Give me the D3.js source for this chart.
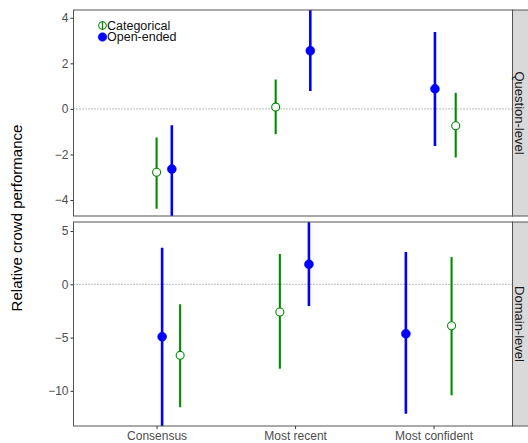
<!DOCTYPE html>
<html>
<head>
<meta charset="utf-8">
<script src="https://cdn.jsdelivr.net/npm/d3@7"></script>
<style>
  body { margin: 0; background: #fff; }
  svg { font-family: "Liberation Sans", Arial, sans-serif; }
</style>
</head>
<body>
<svg id="chart" width="528" height="443"></svg>
<script>
// categories and facets
const categories = ["Consensus", "Most recent", "Most confident"];
const panels = ["Question-level", "Domain-level"];
const seriesNames = ["Categorical", "Open-ended"];

// Question-level estimates + intervals (per category)
const qCatMean = [-2.78, 0.08, -0.74];
const qCatLow = [-4.38, -1.11, -2.13];
const qCatHigh = [-1.25, 1.29, 0.71];
const qCatJitter = [0.0, -0.14, 0.16];
const qOpenMean = [-2.64, 2.55, 0.88];
const qOpenLow = [-4.9, 0.79, -1.63];
const qOpenHigh = [-0.72, 4.6, 3.37];
const qOpenJitter = [0.11, 0.11, 0.01];

// Domain-level
const dCatMean = [-6.67, -2.6, -3.89];
const dCatLow = [-11.55, -7.92, -10.42];
const dCatHigh = [-1.88, 2.85, 2.56];
const dCatJitter = [0.17, -0.11, 0.13];
const dOpenMean = [-4.92, 1.88, -4.64];
const dOpenLow = [-14, -2.04, -12.15];
const dOpenHigh = [3.44, 6.5, 3.03];
const dOpenJitter = [0.04, 0.10, -0.20];

const qTicks = [-4, -2, 0, 2, 4];
const dTicks = [-10, -5, 0, 5];

function rows(mean, low, high, jit, s) {
    return categories.map((c, i) => ({cat: i, mean: mean[i], low: low[i], high: high[i], jit: jit[i], series: s}));
}

const panelData = [
    {name: panels[0], domain: [-4.70, 4.34], ticks: qTicks,
     points: rows(qCatMean, qCatLow, qCatHigh, qCatJitter, 0).concat(rows(qOpenMean, qOpenLow, qOpenHigh, qOpenJitter, 1))},
    {name: panels[1], domain: [-13.3, 5.85], ticks: dTicks,
     points: rows(dCatMean, dCatLow, dCatHigh, dCatJitter, 0).concat(rows(dOpenMean, dOpenLow, dOpenHigh, dOpenJitter, 1))}
];

const colors = ["#008B00", "#0000FF"];

const svg = d3.select("#chart");
const left = 73.5, right = 512.5;
const width = right - left;
const panelTops = [10, 222];
const panelH = [206, 204];

const x = d3.scaleLinear().domain([-0.6, 2.57]).range([0, width]);

panelData.forEach((p, pi) => {
    const g = svg.append("g").attr("transform", `translate(${left},${panelTops[pi]})`);
    const h = panelH[pi];
    const y = d3.scaleLinear().domain(p.domain).range([h, 0]);

    g.append("clipPath").attr("id", "clip" + pi)
        .append("rect").attr("width", width).attr("height", h);

    // zero reference
    g.append("line")
        .attr("x1", 0).attr("x2", width)
        .attr("y1", y(0)).attr("y2", y(0))
        .attr("stroke", "#555").attr("stroke-width", 0.8)
        .attr("stroke-dasharray", "1,2");

    const marks = g.append("g").attr("clip-path", `url(#clip${pi})`);

    marks.selectAll(".err")
        .data(p.points)
        .enter().append("line")
        .attr("x1", d => x(d.cat + d.jit)).attr("x2", d => x(d.cat + d.jit))
        .attr("y1", d => y(d.low)).attr("y2", d => y(d.high))
        .attr("stroke", d => colors[d.series])
        .attr("stroke-width", d => d.series === 1 ? 2.6 : 2.1);

    marks.selectAll(".pt")
        .data(p.points)
        .enter().append("circle")
        .attr("cx", d => x(d.cat + d.jit))
        .attr("cy", d => y(d.mean))
        .attr("r", d => d.series === 1 ? 4.5 : 4)
        .attr("fill", d => d.series === 1 ? colors[1] : "white")
        .attr("stroke", d => colors[d.series])
        .attr("stroke-width", d => d.series === 1 ? 0.5 : 1.1);

    // y axis
    const yAxis = g.append("g")
        .call(d3.axisLeft(y).tickValues(p.ticks).tickSize(3).tickFormat(d => d3.format("d")(d).replace("-", "\u2212")));
    yAxis.select(".domain").remove();
    yAxis.selectAll(".tick line").attr("stroke", "#333");
    yAxis.selectAll(".tick text").attr("fill", "#4D4D4D").attr("font-size", 12).attr("x", -5)
        .attr("font-family", "Liberation Sans, Arial, sans-serif");

    if (pi === 1) {
        const xAxis = g.append("g")
            .attr("transform", `translate(0,${h})`)
            .call(d3.axisBottom(x).tickValues([0, 1, 2]).tickSize(3).tickFormat(i => categories[i]));
        xAxis.select(".domain").remove();
        xAxis.selectAll(".tick line").attr("stroke", "#333");
        xAxis.selectAll(".tick text").attr("fill", "#4D4D4D").attr("font-size", 12).attr("dy", "0.72em")
            .attr("y", 5).attr("font-family", "Liberation Sans, Arial, sans-serif");
    }

    // panel border
    g.append("rect").attr("width", width).attr("height", h)
        .attr("fill", "none").attr("stroke", "#555").attr("stroke-width", 1);

    // facet strip
    const strip = svg.append("g").attr("transform", `translate(${right},${panelTops[pi]})`);
    strip.append("rect").attr("width", 20).attr("height", h)
        .attr("fill", "#D9D9D9").attr("stroke", "#555").attr("stroke-width", 1);
    strip.append("text")
        .attr("transform", `translate(${7},${h / 2}) rotate(90)`)
        .attr("text-anchor", "middle")
        .attr("dominant-baseline", "central")
        .attr("font-size", 13)
        .attr("fill", "#1A1A1A")
        .text(p.name);
});

// y label
svg.append("text")
    .attr("transform", `translate(22,${(panelTops[0] + panelTops[1] + panelH[1]) / 2}) rotate(-90)`)
    .attr("text-anchor", "middle")
    .attr("font-size", 15)
    .attr("fill", "#000")
    .text("Relative crowd performance");

// legend
const legend = svg.append("g").attr("transform", `translate(${left + 29},25.5)`);
seriesNames.forEach((s, i) => {
    const lg = legend.append("g").attr("transform", `translate(0,${i * 11.5})`);
    if (i === 0) {
        lg.append("line").attr("y1", -4.5).attr("y2", 4.5)
            .attr("stroke", colors[0]).attr("stroke-width", 1.3);
    }
    lg.append("circle").attr("r", i === 1 ? 4.3 : 3.8)
        .attr("fill", i === 1 ? colors[1] : "white")
        .attr("fill-opacity", i === 1 ? 1 : 0)
        .attr("stroke", colors[i]).attr("stroke-width", i === 1 ? 0.5 : 1.1);
    lg.append("text").attr("x", 4.5).attr("dy", "0.34em")
        .attr("font-size", 12.5).attr("fill", "#111").text(s);
});
</script>
</body>
</html>
